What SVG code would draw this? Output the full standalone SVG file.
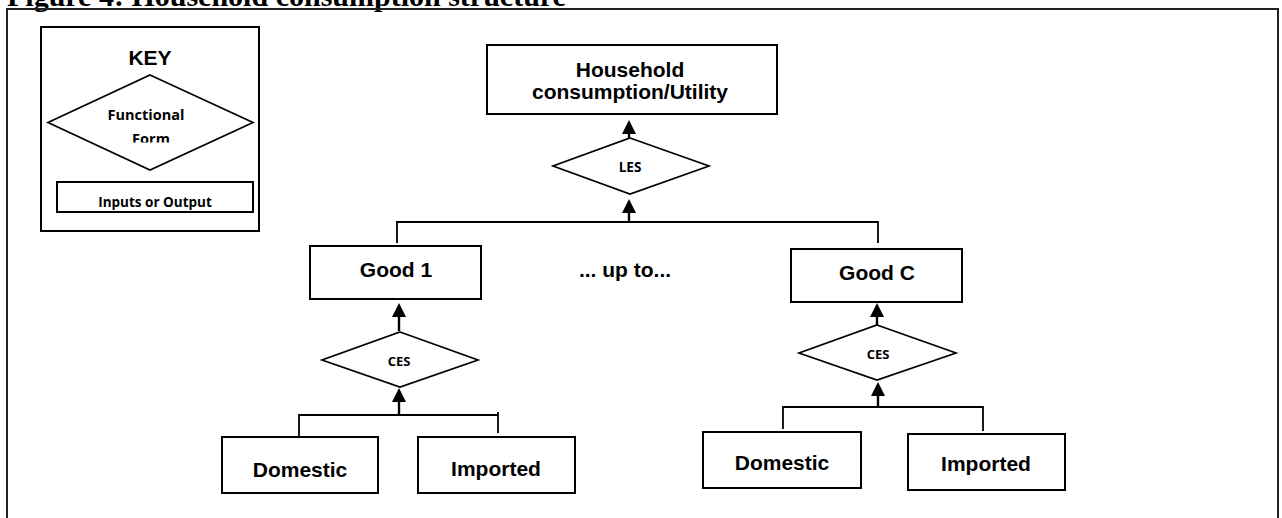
<svg xmlns="http://www.w3.org/2000/svg" width="1282" height="518" viewBox="0 0 1282 518">
<style>
.box{fill:#fff;stroke:#000;stroke-width:2}
.dia{fill:#fff;stroke:#000;stroke-width:1.7}
.ln{fill:none;stroke:#000;stroke-width:1.8}
.ar{fill:none;stroke:#000;stroke-width:2.4}
.t{font-family:"Liberation Sans",Arial,sans-serif;font-weight:bold;font-size:21px;text-anchor:middle;fill:#000}
.c{font-family:"Open Sans","Noto Sans",sans-serif;font-weight:bold;text-anchor:middle;fill:#000}
</style>
<defs>
<marker id="ah" markerUnits="userSpaceOnUse" markerWidth="15" markerHeight="15" viewBox="0 0 15 15" refX="0" refY="7.5" orient="auto">
<path d="M0,0.5 L14,7.5 L0,14.5 z" fill="#000"/>
</marker>
<clipPath id="formclip"><rect x="100" y="125" width="100" height="17.5"/></clipPath>
</defs>
<rect width="1282" height="518" fill="#fff"/>
<text x="7" y="6" font-family="'Liberation Serif','Times New Roman',serif" font-weight="bold" font-size="30">Figure 4: Household consumption structure</text>
<rect x="7" y="9" width="1271" height="530" fill="none" stroke="#222" stroke-width="2"/>

<g id="key">
<rect class="box" x="41" y="27" width="218" height="204"/>
<text class="t" x="150" y="65" font-size="19.5">KEY</text>
<polygon class="dia" points="150,75 253,122.5 150,170 48,122.5"/>
<text class="c" x="146" y="120" font-size="14.5">Functional</text>
<text class="c" x="151" y="144" font-size="14.5" clip-path="url(#formclip)">Form</text>
<rect class="box" x="57" y="182" width="196" height="30"/>
<text class="c" x="155" y="207" font-size="13.5">Inputs or Output</text>
</g>

<g id="utility">
<rect class="box" x="487" y="45" width="290" height="69"/>
<text class="t" x="630" y="77">Household</text>
<text class="t" x="630" y="99">consumption/Utility</text>
</g>
<g id="les">
<polygon class="dia" points="630,138 709,166 630,194 553,166"/>
<text class="c" x="630" y="172" font-size="13.5">LES</text>
</g>
<g id="good1">
<rect class="box" x="310" y="246" width="171" height="53"/>
<text class="t" x="396" y="277">Good 1</text>
</g>
<g id="upto">
<text class="t" x="625" y="277" font-size="20">... up to...</text>
</g>
<g id="goodC">
<rect class="box" x="791" y="249" width="171" height="53"/>
<text class="t" x="877" y="280">Good C</text>
</g>
<g id="ces1">
<polygon class="dia" points="400,332 478,360 400,387 322,360"/>
<text class="c" x="399" y="366" font-size="13">CES</text>
</g>
<g id="cesC">
<polygon class="dia" points="877,325 956,353 877,380 799,353"/>
<text class="c" x="878" y="359" font-size="13">CES</text>
</g>
<g id="dom1">
<rect class="box" x="222" y="437" width="156" height="56"/>
<text class="t" x="300" y="477">Domestic</text>
</g>
<g id="imp1">
<rect class="box" x="418" y="437" width="157" height="56"/>
<text class="t" x="496" y="476">Imported</text>
</g>
<g id="domC">
<rect class="box" x="703" y="432" width="158" height="56"/>
<text class="t" x="782" y="470">Domestic</text>
</g>
<g id="impC">
<rect class="box" x="908" y="434" width="157" height="56"/>
<text class="t" x="986" y="471">Imported</text>
</g>

<g id="connectors">
<polyline class="ln" points="397,243 397,222 878,222 878,243"/>
<polyline class="ln" points="299,436 299,415 498,415"/>
<line class="ln" x1="498" y1="412" x2="498" y2="433"/>
<polyline class="ln" points="783,429 783,407 983,407 983,431"/>
<line class="ar" x1="629" y1="138" x2="629" y2="134" marker-end="url(#ah)"/>
<line class="ar" x1="629" y1="222" x2="629" y2="213" marker-end="url(#ah)"/>
<line class="ar" x1="399" y1="331" x2="399" y2="317" marker-end="url(#ah)"/>
<line class="ar" x1="399" y1="415" x2="399" y2="402" marker-end="url(#ah)"/>
<line class="ar" x1="877" y1="325" x2="877" y2="317" marker-end="url(#ah)"/>
<line class="ar" x1="878" y1="407" x2="878" y2="396" marker-end="url(#ah)"/>
</g>
</svg>
